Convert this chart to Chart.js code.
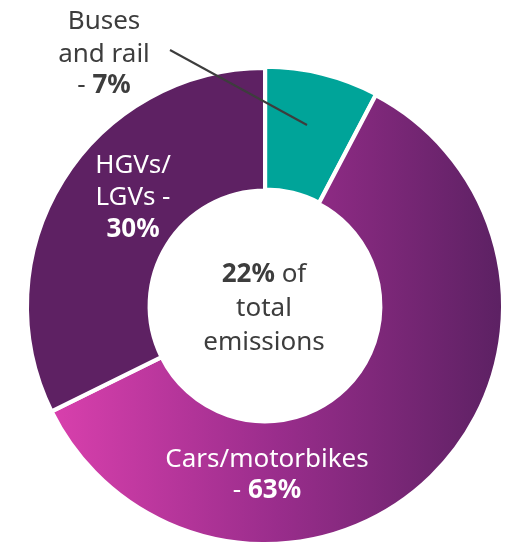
<!DOCTYPE html>
<html>
<head>
<meta charset="utf-8">
<script src="https://cdn.jsdelivr.net/npm/chart.js@4/dist/chart.umd.min.js"></script>
<style>
    html, body { margin: 0; padding: 0; background: #fff; }
    #wrap { width: 513px; height: 547px; }
</style>
</head>
<body>
<div id="wrap"><canvas id="myChart"></canvas></div>
<script>
'use strict'

// slice sizes as drawn in the picture, and the printed labels
const categories = ['Buses and rail', 'Cars/motorbikes', 'HGVs/LGVs'];
const shares = [7.7, 60, 32.3];
const percentLabels = ['7%', '63%', '30%'];
const centreShare = '22%';
const sliceColors = ['#00a499', null, '#5e2163'];

const FONT = '"Noto Sans", sans-serif';
const DARK = '#3d3d3d';
const SIZE = 26;

function carsGradient(chart) {
    const area = chart.chartArea;
    if (!area) return '#9b2e8e';
    const cx = (area.left + area.right) / 2;
    const g = chart.ctx.createLinearGradient(cx - 215, 0, cx + 237, 0);
    g.addColorStop(0, '#d940ad');
    g.addColorStop(0.5, '#9a2d8c');
    g.addColorStop(1, '#5c2163');
    return g;
}

// draws one line made of [text, bold] runs, centred on x
function drawRuns(ctx, runs, x, y, color) {
    let total = 0;
    runs.forEach(r => {
        ctx.font = (r[1] ? 'bold ' : '') + SIZE + 'px ' + FONT;
        total += ctx.measureText(r[0]).width;
    });
    let cur = x - total / 2;
    ctx.fillStyle = color;
    ctx.textAlign = 'left';
    ctx.textBaseline = 'alphabetic';
    runs.forEach(r => {
        ctx.font = (r[1] ? 'bold ' : '') + SIZE + 'px ' + FONT;
        ctx.fillText(r[0], cur, y);
        cur += ctx.measureText(r[0]).width;
    });
}

const labelPlugin = {
    id: 'labels',
    afterDraw(chart) {
        const ctx = chart.ctx;
        ctx.save();

        // leader line for the small slice
        ctx.strokeStyle = DARK;
        ctx.lineWidth = 2;
        ctx.beginPath();
        ctx.moveTo(170, 50);
        ctx.lineTo(307, 125);
        ctx.stroke();

        const words0 = categories[0].split(' ');
        drawRuns(ctx, [[words0[0], false]], 104, 29, DARK);
        drawRuns(ctx, [[words0.slice(1).join(' '), false]], 104, 62, DARK);
        drawRuns(ctx, [['- ', false], [percentLabels[0], true]], 104, 93, DARK);

        const hgv = categories[2].split('/');
        drawRuns(ctx, [[hgv[0] + '/', false]], 133, 173, '#fff');
        drawRuns(ctx, [[hgv[1] + ' -', false]], 133, 205, '#fff');
        drawRuns(ctx, [[percentLabels[2], true]], 133, 237, '#fff');

        drawRuns(ctx, [[categories[1], false]], 267, 467, '#fff');
        drawRuns(ctx, [['- ', false], [percentLabels[1], true]], 267, 498, '#fff');

        drawRuns(ctx, [[centreShare, true], [' of', false]], 264, 282, DARK);
        drawRuns(ctx, [['total', false]], 264, 316, DARK);
        drawRuns(ctx, [['emissions', false]], 264, 350, DARK);

        ctx.restore();
    }
};

new Chart(document.getElementById('myChart'), {
    type: 'doughnut',
    data: {
        labels: categories,
        datasets: [{
            data: shares,
            backgroundColor: ctx => ctx.dataIndex === 1 ? carsGradient(ctx.chart) : sliceColors[ctx.dataIndex],
            borderColor: '#ffffff',
            borderWidth: 4,
            offset: [3, 0, 0]
        }]
    },
    options: {
        responsive: true,
        maintainAspectRatio: false,
        animation: false,
        radius: 238,
        cutout: '48.5%',
        layout: { padding: { left: 17, right: 0, top: 65, bottom: 0 } },
        plugins: {
            legend: { display: false },
            tooltip: { enabled: false }
        }
    },
    plugins: [labelPlugin]
});
</script>
</body>
</html>
